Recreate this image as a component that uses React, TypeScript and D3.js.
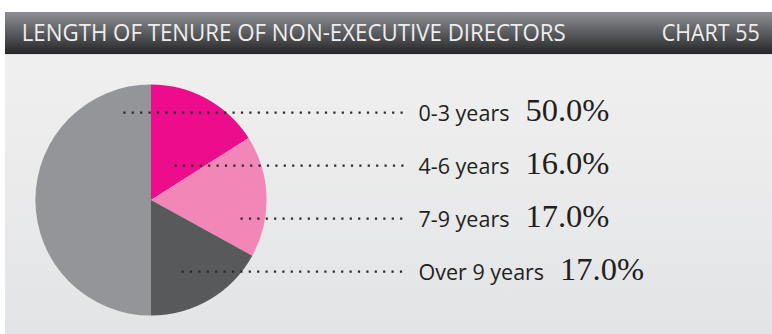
import React from "react";
import * as d3 from "d3";

const categories = ["0-3 years", "4-6 years", "7-9 years", "Over 9 years"];
const values = [50.0, 16.0, 17.0, 17.0];
const colors = ["#939598", "#ec0c8c", "#f287b7", "#58595b"];
// drawing order clockwise from 12 o'clock
const pieOrder = [1, 2, 3, 0];
const title = "LENGTH OF TENURE OF NON-EXECUTIVE DIRECTORS";
const chartNo = "CHART 55";

const W = 772;
const H = 334;
const cx = 151;
const cy = 200;
const R = 115.6;
const leaderStart = [123.3, 174.5, 240.5, 181.5];

export default function App() {
  const ordered = pieOrder.map((i) => ({ i, v: values[i] }));
  const pie = d3
    .pie<{ i: number; v: number }>()
    .value((d) => d.v)
    .sort(null)
    .startAngle(0)
    .endAngle(2 * Math.PI);
  const arcs = pie(ordered);
  const arc = d3.arc<d3.PieArcDatum<{ i: number; v: number }>>().innerRadius(0).outerRadius(R);

  const rowY = d3.scaleLinear().domain([0, 1]).range([0, 53]);

  return (
    <svg
      width={W}
      height={H}
      style={{ position: "absolute", left: 0, top: 0 }}
      xmlns="http://www.w3.org/2000/svg"
    >
      <defs>
        <linearGradient id="hdr" x1="0" y1="0" x2="0" y2="1">
          <stop offset="0" stopColor="#8e8f92" />
          <stop offset="0.5" stopColor="#5a5b5e" />
          <stop offset="1" stopColor="#252527" />
        </linearGradient>
        <linearGradient id="panel" x1="0" y1="0" x2="0" y2="1">
          <stop offset="0" stopColor="#f0f0f0" />
          <stop offset="1" stopColor="#e3e4e6" />
        </linearGradient>
      </defs>
      <rect x={0} y={0} width={W} height={H} fill="#ffffff" />
      <rect x={5} y={12} width={W - 5} height={42.3} fill="url(#hdr)" />
      <rect x={5} y={54.3} width={W - 5} height={H - 54.3} fill="url(#panel)" />
      <text
        x={21.7}
        y={40.7}
        fill="#eeeeee"
        fontFamily="'Open Sans', sans-serif"
        fontSize={23}
        textLength={544}
        lengthAdjust="spacingAndGlyphs"
      >
        {title}
      </text>
      <text
        x={661.7}
        y={40.7}
        fill="#eeeeee"
        fontFamily="'Open Sans', sans-serif"
        fontSize={23}
        textLength={98}
        lengthAdjust="spacingAndGlyphs"
      >
        {chartNo}
      </text>
      <g transform={`translate(${cx},${cy})`}>
        {arcs.map((a) => (
          <path key={a.data.i} d={arc(a) || ""} fill={colors[a.data.i]} />
        ))}
      </g>
      {categories.map((c, i) => {
        const ly = 112.7 + rowY(i);
        const by = 121.3 + rowY(i);
        return (
          <g key={c}>
            <line
              x1={leaderStart[i]}
              x2={404}
              y1={ly}
              y2={ly}
              stroke="#2a2a2a"
              strokeWidth={2.2}
              strokeDasharray="2.2 6.2"
            />
            <text
              x={418.5}
              y={by}
              fill="#231f20"
              fontFamily="'Open Sans', sans-serif"
              fontSize={21.5}
            >
              <tspan>{c}</tspan>
              <tspan dx={16} fontFamily="'Liberation Serif', serif" fontSize={32.5}>
                {values[i].toFixed(1) + "%"}
              </tspan>
            </text>
          </g>
        );
      })}
    </svg>
  );
}
